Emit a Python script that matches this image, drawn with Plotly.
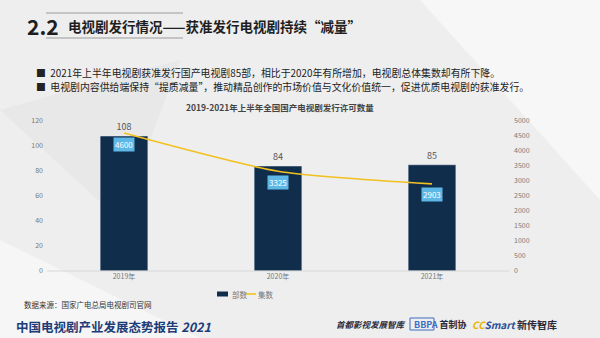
import plotly.graph_objects as go

categories = ["2019年", "2020年", "2021年"]
bu_shu = [108, 84, 85]          # 部数 (left axis)
ji_shu = [4600, 3325, 2903]     # 集数 (right axis)
left_ticks = [0, 20, 40, 60, 80, 100, 120]
right_ticks = [0, 500, 1000, 1500, 2000, 2500, 3000, 3500, 4000, 4500, 5000]

W, H = 600, 338
L, R, T, B = 47, 91, 121, 67
PW, PH = W - L - R, H - T - B

def px(x):
    return (x - L) / PW

def py(y):
    return (H - B - y) / PH

FONT = "Noto Sans CJK SC"
BAR = "#112d4c"
LINE = "#f2c020"
LBL = "#5db8e6"

fig = go.Figure()
fig.add_trace(go.Bar(
    x=categories, y=bu_shu, name="部数", marker_color=BAR, width=0.31,
    text=bu_shu, textposition="outside", cliponaxis=False,
    textfont=dict(size=9, color="#555", family=FONT), yaxis="y",
))
fig.add_trace(go.Scatter(
    x=categories, y=ji_shu, name="集数", mode="lines",
    line=dict(color=LINE, width=1.6, shape="spline", smoothing=0.6), yaxis="y2",
))

annotations = []
for c, v in zip(categories, ji_shu):
    annotations.append(dict(
        x=c, y=v, xref="x", yref="y2", text=str(v), showarrow=False,
        yshift=-11, bgcolor=LBL, font=dict(size=8, color="white", family=FONT),
        borderpad=1,
    ))

def txt(x, y, s, size, color="#222", xanchor="left", bold=False, **kw):
    annotations.append(dict(
        x=px(x), y=py(y), xref="paper", yref="paper", text=s, showarrow=False,
        xanchor=xanchor, yanchor="middle",
        font=dict(size=size, color=color, family=FONT, weight=700 if bold else 400), **kw))

txt(25, 26, "2.2", 21, "#1e1e1e", bold=True)
txt(66, 26, "电视剧发行情况——获准发行电视剧持续“减量”", 13.5, "#1e1e1e", bold=True)
txt(34, 73, "■  2021年上半年电视剧获准发行国产电视剧85部，相比于2020年有所增加，电视剧总体集数却有所下降。", 9.9, "#222")
txt(34, 87, "■  电视剧内容供给端保持“提质减量”，推动精品创作的市场价值与文化价值统一，促进优质电视剧的获准发行。", 9.9, "#222")
txt(280, 107, "2019-2021年上半年全国国产电视剧发行许可数量", 8.5, "#444", xanchor="center", bold=True)
txt(22, 304, "数据来源：国家广电总局电视剧司官网", 7.5, "#333")
txt(14, 326, "中国电视剧产业发展态势报告 <i>2021</i>", 12.5, "#1d3c78", bold=True)
txt(334, 324, "<i>首都影视发展智库</i>", 8.5, "#2a2a3a", bold=True)
txt(412, 324, "<span style='color:#3a6fc4'>BBPA</span> 首制协", 9, "#2a2a3a", bold=True)
txt(470, 324, "<i><span style='color:#e8b400'>CC</span><span style='color:#2a4f9a'>Smart</span></i> 新传智库", 10, "#2a2a3a", bold=True)
# manual legend labels
txt(230, 294, "部数", 7.5, "#777")
txt(256, 294, "集数", 7.5, "#777")

shapes = [
    dict(type="line", xref="paper", yref="paper", x0=px(46), x1=px(183), y0=py(13), y1=py(13),
         line=dict(color="#9a9a9a", width=1)),
    dict(type="line", xref="paper", yref="paper", x0=px(46), x1=px(183), y0=py(38), y1=py(38),
         line=dict(color="#9a9a9a", width=1)),
    dict(type="rect", xref="paper", yref="paper", x0=px(410), x1=px(434), y0=py(318), y1=py(330),
         line=dict(color="#3a6fc4", width=1), fillcolor="rgba(0,0,0,0)"),
    # legend symbols
    dict(type="rect", xref="paper", yref="paper", x0=px(217), x1=px(228), y0=py(291.5), y1=py(296.5),
         line=dict(width=0), fillcolor=BAR),
    dict(type="line", xref="paper", yref="paper", x0=px(245), x1=px(256), y0=py(294), y1=py(294),
         line=dict(color=LINE, width=1.6)),
    # faint background facets
    dict(type="path", xref="paper", yref="paper", layer="below",
         path=f"M {px(0)} {py(338)} L {px(0)} {py(240)} L {px(200)} {py(338)} Z",
         fillcolor="rgba(255,255,255,0.45)", line=dict(width=0)),
    dict(type="path", xref="paper", yref="paper", layer="below",
         path=f"M {px(420)} {py(0)} L {px(600)} {py(0)} L {px(600)} {py(200)} Z",
         fillcolor="rgba(255,255,255,0.5)", line=dict(width=0)),
    dict(type="path", xref="paper", yref="paper", layer="below",
         path=f"M {px(0)} {py(110)} L {px(180)} {py(60)} L {px(120)} {py(220)} Z",
         fillcolor="rgba(225,225,225,0.5)", line=dict(width=0)),
    dict(type="line", xref="paper", yref="paper", x0=0, x1=1, y0=0, y1=0,
         line=dict(color="#d8d8d8", width=1)),
]

fig.update_layout(
    width=W, height=H,
    margin=dict(l=L, r=R, t=T, b=B),
    paper_bgcolor="#eeeeee", plot_bgcolor="rgba(0,0,0,0)",
    font=dict(family=FONT, color="#666"),
    showlegend=False,
    xaxis=dict(showgrid=False, showline=False, ticks="", tickfont=dict(size=7, color="#777"),
               range=[-0.5, 2.5]),
    yaxis=dict(range=[0, 120], tickvals=left_ticks, showgrid=False, zeroline=False,
               tickfont=dict(size=7, color="#777"), ticklabelstandoff=3),
    yaxis2=dict(range=[0, 5000], tickvals=right_ticks, overlaying="y", side="right",
                showgrid=False, zeroline=False, tickfont=dict(size=7, color="#777"),
                ticklabelstandoff=4),
    annotations=annotations,
    shapes=shapes,
)

fig.write_html("out.html")
